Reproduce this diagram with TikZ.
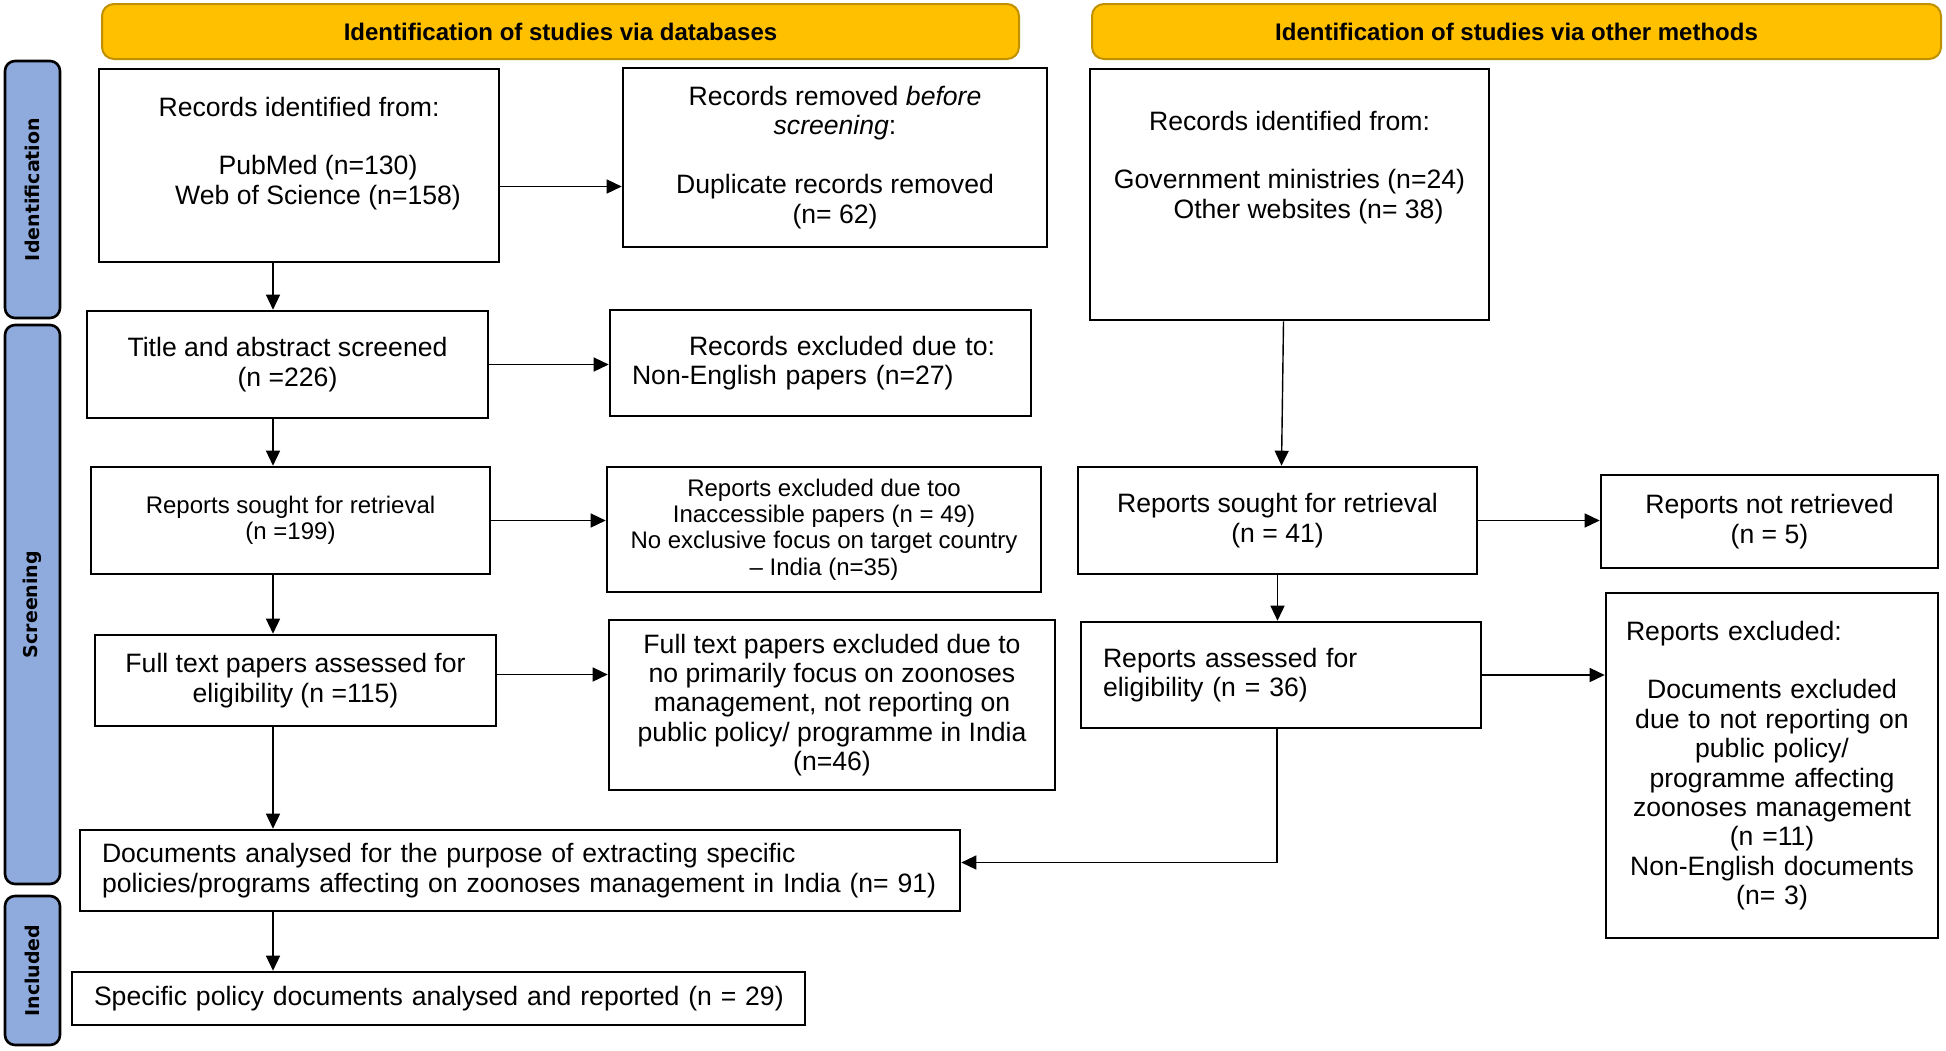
\documentclass[tikz,border=0pt]{standalone}
\usepackage{fontspec}
\setmainfont{Liberation Sans}
\newfontfamily\sidefont{DejaVu Sans}
\usetikzlibrary{arrows.meta}
\definecolor{bannerfill}{HTML}{FFC000}
\definecolor{bannerline}{HTML}{BF9000}
\definecolor{sidefill}{HTML}{8FAADC}
\newcommand{\boxfont}{\fontsize{13.3}{14.7}\selectfont}
\newcommand{\smallboxfont}{\fontsize{12}{13.2}\selectfont}
\tikzset{
  flowbox/.style={draw, line width=1.3pt, align=center, inner sep=0pt, font=\boxfont},
  leftbox/.style={flowbox, align=left, inner xsep=11pt},
  banner/.style={draw=bannerline, fill=bannerfill, line width=1pt, rounded corners=6pt,
    font=\bfseries\fontsize{12}{14}\selectfont, inner sep=0pt, minimum height=27.5pt},
  sidebar/.style={draw, fill=sidefill, line width=1.3pt, rounded corners=5pt, rotate=90,
    font=\sidefont\bfseries\fontsize{9.5}{11}\selectfont, inner sep=0pt, minimum height=27.5pt},
  arr/.style={-{Triangle[length=7.5pt,width=7pt]}, line width=0.7pt}
}

\begin{document}
\begin{tikzpicture}[x=0.5pt,y=-0.5pt]
\useasboundingbox (0,0) rectangle (1946,1050);

\node[banner, minimum width=458.5pt] (bdb) at (560.5,31.5) {Identification of studies via databases};
\node[banner, minimum width=424.5pt] (bother) at (1516.5,31.5) {Identification of studies via other methods};

\node[sidebar, minimum width=128.5pt] (sideid) at (32.5,189.5) {Identification};
\node[sidebar, minimum width=279.5pt] (sidescr) at (32.5,604.5) {Screening};
\node[sidebar, minimum width=74.5pt] (sideinc) at (32.5,970.5) {Included};

\node[flowbox, minimum width=200pt, minimum height=96.5pt] (rid1) at (299,165.5)
  {Records identified from:\\[14.7pt]\hspace*{19pt}PubMed (n=130)\\\hspace*{19pt}Web of Science (n=158)\rule[-15pt]{0pt}{0pt}};
\node[flowbox, minimum width=212pt, minimum height=89.5pt] (rrm) at (835,157.5)
  {Records removed \textit{before}\\\textit{screening}:\\[14.7pt]Duplicate records removed\\(n= 62)};
\node[flowbox, minimum width=199.5pt, minimum height=125.5pt] (rid2) at (1289.5,194.5)
  {Records identified from:\\[14.7pt]Government ministries (n=24)\\\hspace*{19pt}Other websites (n= 38)\rule[-30pt]{0pt}{0pt}};

\node[flowbox, minimum width=200.5pt, minimum height=53.5pt] (tas) at (287.5,364.5)
  {Title and abstract screened\\(n =226)};
\node[leftbox, text width=188.5pt, minimum height=53pt] (rex) at (820.5,363)
  {\hspace*{28.5pt}Records excluded due to:\\Non-English papers (n=27)};

\node[flowbox, font=\smallboxfont, minimum width=199.5pt, minimum height=53.5pt] (rs1) at (290.5,520.5)
  {Reports sought for retrieval\\(n =199)};
\node[flowbox, font=\smallboxfont, minimum width=217pt, minimum height=62.5pt] (rpx) at (824,529.5)
  {Reports excluded due too\\Inaccessible papers (n = 49)\\No exclusive focus on target country\\-- India (n=35)};

\node[flowbox, minimum width=200.5pt, minimum height=45.5pt] (ft) at (295.5,680.5)
  {Full text papers assessed for\\eligibility (n =115)};
\node[flowbox, minimum width=223pt, minimum height=85pt] (ftx) at (832,705)
  {Full text papers excluded due to\\no primarily focus on zoonoses\\management, not reporting on\\public policy/ programme in India\\(n=46)};

\node[leftbox, text width=418pt, minimum height=40.5pt] (da) at (520,870.5)
  {Documents analysed for the purpose of extracting specific\\policies/programs affecting on zoonoses management in India (n= 91)};
\node[leftbox, text width=344.5pt, minimum height=26.5pt] (sp) at (438.5,998.5)
  {\mbox{Specific policy documents analysed and reported (n = 29)}};

\node[flowbox, minimum width=199.5pt, minimum height=53.5pt] (rs2) at (1277.5,520.5)
  {Reports sought for retrieval\\(n = 41)};
\node[flowbox, minimum width=168.5pt, minimum height=46.5pt] (rnr) at (1769.5,521.5)
  {Reports not retrieved\\(n = 5)};
\node[leftbox, text width=178pt, minimum height=53pt] (ra) at (1281,675)
  {Reports assessed for\\eligibility (n = 36)};
\node[flowbox, text width=146pt, inner xsep=10pt, minimum height=172.5pt] (rx) at (1772,765.5)
  {\makebox[146pt][l]{Reports excluded:}\\[14.7pt]Documents excluded\\due to not reporting on\\public policy/\\programme affecting\\zoonoses management\\(n =11)\\Non-English documents\\(n= 3)};

\coordinate (spine) at (273,0);
\draw[arr] (rid1.south -| spine) -- (tas.north -| spine);
\draw[arr] (tas.south -| spine) -- (rs1.north -| spine);
\draw[arr] (rs1.south -| spine) -- (ft.north -| spine);
\draw[arr] (ft.south -| spine) -- (da.north -| spine);
\draw[arr] (da.south -| spine) -- (sp.north -| spine);
\draw[arr] ([yshift=-10.5pt]rid1.east) -- ([yshift=-10.5pt]rid1.east -| rrm.west);
\draw[arr] (tas.east) -- (tas.east -| rex.west);
\draw[arr] (rs1.east) -- (rs1.east -| rpx.west);
\draw[arr] ([yshift=3pt]ft.east) -- ([yshift=3pt]ft.east -| ftx.west);
\draw[arr] ([xshift=-3pt]rid2.south) -- ([xshift=2pt]rs2.north);
\draw[arr] (rs2.east) -- (rs2.east -| rnr.west);
\draw[arr] (rs2.south) -- (rs2.south |- ra.north);
\draw[arr] (ra.east) -- (ra.east -| rx.west);
\draw[arr] ([xshift=-2pt]ra.south) |- ([yshift=4pt]da.east);
\end{tikzpicture}
\end{document}
